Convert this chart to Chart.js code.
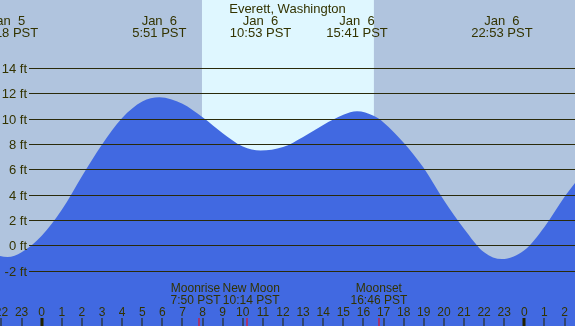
<!DOCTYPE html>
<html><head><meta charset="utf-8">
<script src="https://cdn.jsdelivr.net/npm/chart.js@4"></script>
<style>html,body{margin:0;padding:0;background:#B0C4DE;overflow:hidden}#wrap{position:relative;width:575px;height:326px}</style>
</head><body><div id="wrap"><canvas id="c" width="575" height="326"></canvas></div>
<script>
// Hours relative to Jan 6 00:00 PST; heights in feet
const tideHours = [-2.2, -1.7, -1, 0, 1, 2, 3, 4, 5, 5.85, 7, 8, 9, 10, 10.883, 12, 13, 14, 15, 15.683, 16.5, 17, 18, 19, 20, 21, 22, 22.883, 24, 25, 26, 27];
const tideFeet  = [-0.8, -0.93, -0.55, 0.75, 2.8, 5.45, 7.95, 10.05, 11.35, 11.69, 11.17, 10.1, 8.85, 7.8, 7.48, 7.75, 8.55, 9.5, 10.3, 10.58, 10.22, 9.7, 8.1, 6.1, 3.56, 1.31, -0.55, -1.09, -0.39, 1.45, 3.83, 5.9];

const extremeHours = [-1.7, 5.85, 10.883, 15.683, 22.883];
const extremeDates = ['Jan  5', 'Jan  6', 'Jan  6', 'Jan  6', 'Jan  6'];
const extremeTimes = ['22:18 PST', '5:51 PST', '10:53 PST', '15:41 PST', '22:53 PST'];

const moonHours = [7.833, 10.233, 16.767];
const moonNames = ['Moonrise', 'New Moon', 'Moonset'];
const moonTimes = ['7:50 PST', '10:14 PST', '16:46 PST'];

const sunriseHour = 7.97, sunsetHour = 16.52;

const yTickValues = [-2, 0, 2, 4, 6, 8, 10, 12, 14];
const yTickLabels = ['-2 ft', '0 ft', '2 ft', '4 ft', '6 ft', '8 ft', '10 ft', '12 ft', '14 ft'];

const hourTickValues = [-2, -1, 0, 1, 2, 3, 4, 5, 6, 7, 8, 9, 10, 11, 12, 13, 14, 15, 16, 17, 18, 19, 20, 21, 22, 23, 24, 25, 26];
const hourTickLabels = ['22', '23', '0', '1', '2', '3', '4', '5', '6', '7', '8', '9', '10', '11', '12', '13', '14', '15', '16', '17', '18', '19', '20', '21', '22', '23', '0', '1', '2'];

const title = 'Everett, Washington';
const FONT = '"Liberation Sans", Arial, sans-serif';
const TEXT = '#333300';

const bgPlugin = {
  id: 'bg',
  beforeDraw(chart) {
    const {ctx, scales: {x}} = chart;
    ctx.save();
    ctx.fillStyle = '#B0C4DE';
    ctx.fillRect(0, 0, chart.width, chart.height);
    const x1 = x.getPixelForValue(sunriseHour), x2 = x.getPixelForValue(sunsetHour);
    ctx.fillStyle = '#DFF7FF';
    ctx.fillRect(x1, 0, x2 - x1, chart.height);
    ctx.restore();
  }
};

const overlayPlugin = {
  id: 'overlay',
  afterDatasetsDraw(chart) {
    const {ctx, scales: {x, y}} = chart;
    const W = chart.width;
    ctx.save();
    // grid lines + y labels
    ctx.strokeStyle = '#2a2a0a';
    ctx.lineWidth = 1;
    ctx.font = '13px ' + FONT;
    ctx.fillStyle = TEXT;
    ctx.textAlign = 'right';
    ctx.textBaseline = 'middle';
    yTickValues.forEach((v, i) => {
      const py = Math.round(y.getPixelForValue(v)) + 0.5;
      ctx.beginPath(); ctx.moveTo(29, py); ctx.lineTo(W, py); ctx.stroke();
      ctx.fillText(yTickLabels[i], 27, py + 0.5);
    });
    // title and tide extremes
    ctx.textAlign = 'center';
    ctx.textBaseline = 'alphabetic';
    ctx.font = '13px ' + FONT;
    ctx.fillText(title, W / 2, 12.5);
    extremeHours.forEach((h, i) => {
      const px = x.getPixelForValue(h);
      ctx.fillText(extremeDates[i], px, 24.5);
      ctx.fillText(extremeTimes[i], px, 36.5);
    });
    // moon labels with simple overlap avoidance
    ctx.font = '12px ' + FONT;
    const centers = moonHours.map(h => x.getPixelForValue(h));
    const halfW = moonNames.map((n, i) => Math.max(ctx.measureText(n).width, ctx.measureText(moonTimes[i]).width) / 2);
    for (let i = 0; i < centers.length - 1; i++) {
      const need = halfW[i] + halfW[i + 1] + 2;
      const gap = centers[i + 1] - centers[i];
      if (gap < need) { const d = (need - gap) / 2; centers[i] -= d; centers[i + 1] += d; }
    }
    centers.forEach((cx, i) => {
      ctx.fillText(moonNames[i], cx, 292);
      ctx.fillText(moonTimes[i], cx, 304);
    });
    // hour ticks
    ctx.font = '12px ' + FONT;
    hourTickValues.forEach((h, i) => {
      const px = x.getPixelForValue(h);
      ctx.fillStyle = TEXT;
      ctx.fillText(hourTickLabels[i], px, 316);
      ctx.fillStyle = '#222200';
      if (hourTickLabels[i] === '0') ctx.fillRect(Math.round(px) - 1.5, 318, 3, 8);
      else ctx.fillRect(Math.round(px) - 0.5, 318, 1, 8);
    });
    // moon event ticks (red)
    ctx.fillStyle = '#FF0000';
    moonHours.forEach(h => {
      const px = x.getPixelForValue(h);
      ctx.fillRect(Math.round(px) - 0.5, 318, 1, 8);
    });
    ctx.restore();
  }
};

new Chart(document.getElementById('c'), {
  type: 'line',
  data: {
    datasets: [{
      data: tideHours.map((h, i) => ({x: h, y: tideFeet[i]})),
      backgroundColor: '#4169E1',
      borderWidth: 0,
      borderColor: 'rgba(0,0,0,0)',
      pointRadius: 0,
      fill: 'start',
      cubicInterpolationMode: 'monotone'
    }]
  },
  options: {
    responsive: false,
    animation: false,
    devicePixelRatio: 1,
    layout: {padding: 0},
    plugins: {legend: {display: false}, tooltip: {enabled: false}, title: {display: false}},
    scales: {
      x: {type: 'linear', min: -2.074, max: 26.52, display: false},
      y: {type: 'linear', min: -6.37, max: 19.36, display: false}
    }
  },
  plugins: [bgPlugin, overlayPlugin]
});
</script>
</body></html>
